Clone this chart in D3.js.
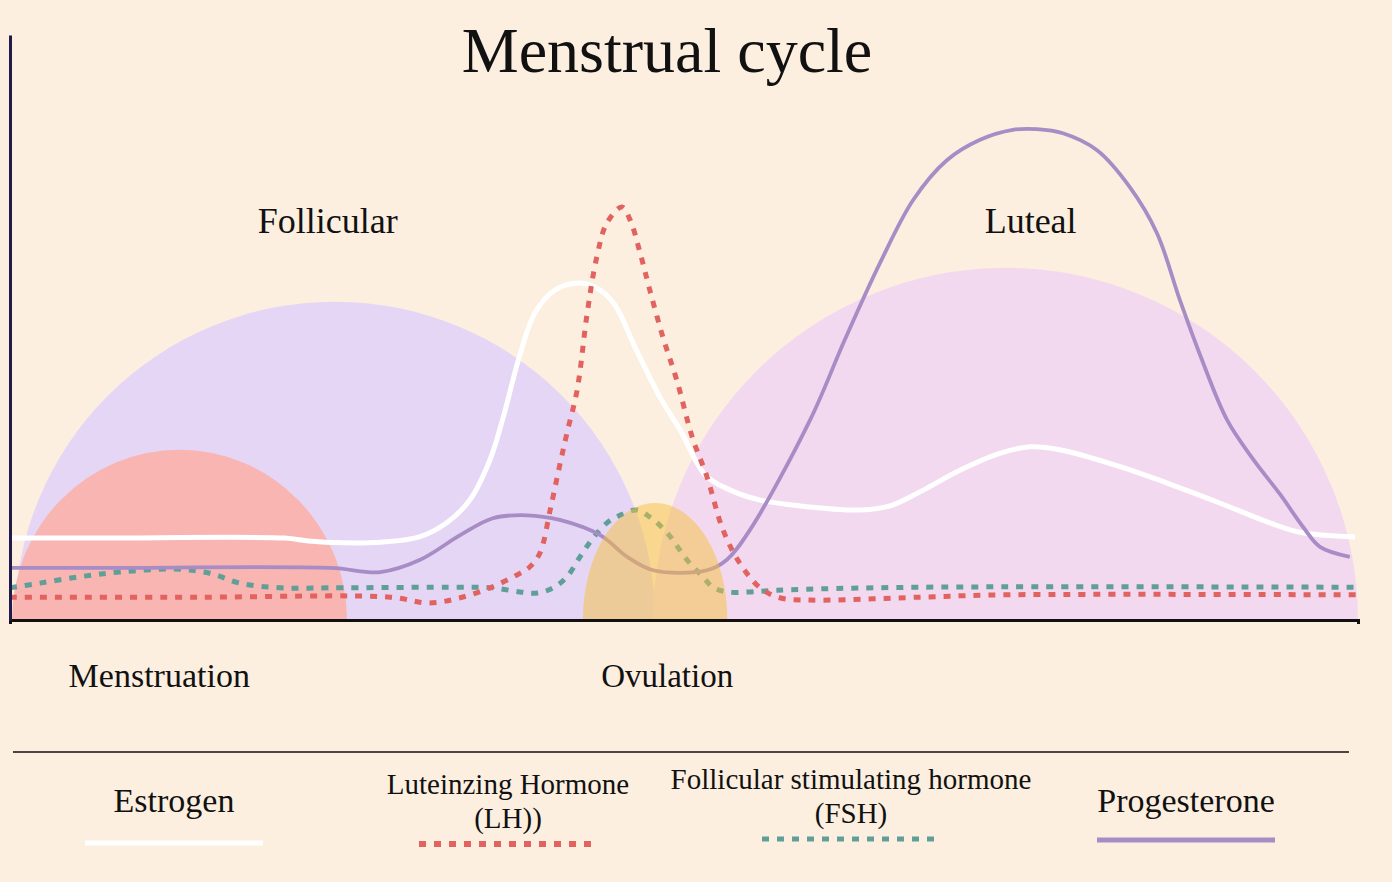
<!DOCTYPE html>
<html>
<head>
<meta charset="utf-8">
<script src="https://cdn.jsdelivr.net/npm/d3@7"></script>
<style>
  body { margin: 0; background: #fcefe0; }
  text { font-family: "Liberation Serif", "DejaVu Serif", serif; fill: #111; }
</style>
</head>
<body>
<div id="chart"></div>
<script>
// hormone levels: [cycle day, level 0-100]
var estrogen = [[0,14.0],[1.9,14.0],[5.7,14.0],[6.2,13.5],[6.9,13.2],[7.7,13.3],[8.5,14.2],[9.1,16.8],[9.55,20.5],
  [9.97,27.4],[10.24,34.5],[10.59,45.3],[10.91,52.6],[11.32,56.4],[11.84,57.6],[12.26,56.4],[12.57,53.8],[12.98,46.7],
  [13.5,38.1],[13.92,32.5],[14.44,24.8],[14.96,22.2],[15.58,20.5],[16.41,19.5],[17.66,18.8],[18.28,19.5],[18.9,21.9],
  [19.73,25.6],[20.56,28.5],[21.19,29.6],[21.81,29.1],[23.06,26.2],[24.3,22.6],[25.13,20.0],[26.17,16.6],[26.79,15.0],[27.94,14.2]];

var lh = [[0,3.9],[3.9,3.9],[7.9,3.9],[8.7,2.9],[9.35,3.8],[9.97,5.5],[10.53,7.7],[10.8,9.1],[11.01,11.5],[11.22,18.8],
  [11.42,26.5],[11.57,32.0],[11.78,39.3],[11.99,52.5],[12.19,62.1],[12.4,67.9],[12.71,70.6],[12.88,68.4],[13.09,62.7],
  [13.29,56.4],[13.56,48.4],[13.85,41.0],[14.17,31.3],[14.48,24.4],[14.81,15.4],[15.16,9.7],[15.58,5.5],[15.99,3.8],
  [16.62,3.4],[18.9,3.9],[20.56,4.3],[28,4.3]];

var fsh = [[0,5.5],[0.62,6.3],[1.45,7.4],[2.28,8.2],[3.43,8.7],[4.15,8.0],[4.78,6.3],[5.61,5.5],[6.65,5.5],[9.35,5.6],
  [10.03,5.5],[10.59,4.8],[10.95,4.6],[11.28,5.5],[11.57,7.4],[11.84,10.8],[12.11,14.0],[12.4,16.6],[12.67,17.9],
  [13.02,18.8],[13.29,17.6],[13.65,14.9],[14.06,10.3],[14.39,7.4],[14.6,5.6],[14.89,4.8],[15.37,4.8],[15.93,5.1],
  [18.9,5.6],[28,5.6]];

var progesterone = [[0,8.9],[1.9,8.9],[6.65,8.9],[7.69,8.2],[8.52,10.3],[9.35,14.5],[10.03,17.4],[10.74,17.9],[11.42,17.1],
  [12.26,14.5],[12.82,10.8],[13.36,8.5],[14.48,8.5],[14.89,10.3],[15.37,15.4],[16.62,34.2],[17.34,47.9],
  [18.07,61.0],[18.76,71.8],[19.46,78.6],[20.15,82.1],[20.83,83.8],[21.33,83.9],[21.87,83.2],[22.58,80.3],[23.26,74.0],
  [23.82,66.2],[24.3,54.7],[24.72,45.3],[25.28,34.2],[25.82,27.5],[26.38,21.5],[26.86,15.9],[27.21,12.5],[27.83,10.8]];

// phases (drawn as half ellipses on the day axis)
var phaseNames = ["Follicular", "Menstruation", "Luteal", "Ovulation"];
var phaseStart = [0.1, 0.04, 13.36, 11.9];
var phaseEnd = [13.4, 7.0, 28.0, 14.9];
var phasePeak = [54.4, 29.1, 60.2, 20.0];
var phaseLabelDay = [6.6, 3.1, 21.2, 13.65];

// legend
var legendNames = [["Estrogen"], ["Luteinzing Hormone", "(LH))"], ["Follicular stimulating hormone", "(FSH)"], ["Progesterone"]];

var svgWidth = 1392;
var svgHeight = 882;

var svg = d3.select("#chart").append("svg")
  .attr("width", svgWidth)
  .attr("height", svgHeight);

svg.append("rect").attr("width", svgWidth).attr("height", svgHeight).attr("fill", "#fcefe0");

var x = d3.scaleLinear().domain([0, 28]).range([10, 1358]);
var y = d3.scaleLinear().domain([0, 100]).range([620, 35]);

svg.append("clipPath").attr("id", "plot")
  .append("rect").attr("x", 10).attr("y", 0).attr("width", 1348).attr("height", 620);

var plot = svg.append("g").attr("clip-path", "url(#plot)");

var phaseColors = ["#e5d6f5", "#f9b5b1", "#f3d9ef"];

// background phases (not ovulation yet - it sits on top of the lines)
[0, 1, 2].forEach(function (i) {
  plot.append("ellipse")
    .attr("cx", (x(phaseStart[i]) + x(phaseEnd[i])) / 2)
    .attr("cy", y(0))
    .attr("rx", (x(phaseEnd[i]) - x(phaseStart[i])) / 2)
    .attr("ry", y(0) - y(phasePeak[i]))
    .attr("fill", phaseColors[i]);
});

var line = d3.line()
  .x(function (d) { return x(d[0]); })
  .y(function (d) { return y(d[1]); })
  .curve(d3.curveCatmullRom.alpha(0.5));

plot.append("path").datum(estrogen).attr("d", line)
  .attr("fill", "none").attr("stroke", "#ffffff").attr("stroke-width", 5);

plot.append("path").datum(fsh).attr("d", line)
  .attr("fill", "none").attr("stroke", "#5f9f97").attr("stroke-width", 5)
  .attr("stroke-dasharray", "7 8");

plot.append("path").datum(lh).attr("d", line)
  .attr("fill", "none").attr("stroke", "#e2625f").attr("stroke-width", 5)
  .attr("stroke-dasharray", "7 8");

plot.append("path").datum(progesterone).attr("d", line)
  .attr("fill", "none").attr("stroke", "#a88cc5").attr("stroke-width", 3.8);

// ovulation blob over the lines
plot.append("ellipse")
  .attr("cx", (x(phaseStart[3]) + x(phaseEnd[3])) / 2)
  .attr("cy", y(0))
  .attr("rx", (x(phaseEnd[3]) - x(phaseStart[3])) / 2)
  .attr("ry", y(0) - y(phasePeak[3]))
  .attr("fill", "#f6bf3c")
  .attr("fill-opacity", 0.5);

// axes
var xAxis = svg.append("g")
  .attr("transform", "translate(0," + y(0) + ")")
  .call(d3.axisBottom(x).ticks(0).tickSizeOuter(4));
xAxis.select(".domain").attr("stroke", "#111").attr("stroke-width", 3);

var yAxis = svg.append("g")
  .attr("transform", "translate(" + x(0) + ",0)")
  .call(d3.axisLeft(y).ticks(0).tickSizeOuter(0));
yAxis.select(".domain").attr("stroke", "#211b4c").attr("stroke-width", 3);

// titles and phase labels
svg.append("text")
  .attr("x", 667).attr("y", 72)
  .attr("text-anchor", "middle")
  .style("font-size", "64px")
  .text("Menstrual cycle");

var labelRowY = [233, 687, 233, 687];
var labelSize = [36, 34, 36, 33];
phaseNames.forEach(function (name, i) {
  svg.append("text")
    .attr("x", x(phaseLabelDay[i]))
    .attr("y", labelRowY[i])
    .attr("text-anchor", "middle")
    .style("font-size", labelSize[i] + "px")
    .text(name);
});

// legend
svg.append("line")
  .attr("x1", 13).attr("x2", 1349).attr("y1", 752).attr("y2", 752)
  .attr("stroke", "#4d4545").attr("stroke-width", 2);

var legendX = [174, 508, 851, 1186];
var legendTextY = [[812], [794, 828], [789, 823], [812]];
var legendSize = [34, 29, 29, 34];
var legendLineY = [843, 844, 839, 840];
var legendStroke = ["#ffffff", "#e2625f", "#5f9f97", "#a88cc5"];
var legendDash = [null, "7 8", "7 8", null];
var legendWidth = [5, 6, 5, 5];

legendNames.forEach(function (rows, i) {
  rows.forEach(function (row, j) {
    svg.append("text")
      .attr("x", legendX[i])
      .attr("y", legendTextY[i][j])
      .attr("text-anchor", "middle")
      .style("font-size", legendSize[i] + "px")
      .text(row);
  });
  svg.append("line")
    .attr("x1", legendX[i] - 89).attr("x2", legendX[i] + 89)
    .attr("y1", legendLineY[i]).attr("y2", legendLineY[i])
    .attr("stroke", legendStroke[i])
    .attr("stroke-width", legendWidth[i])
    .attr("stroke-dasharray", legendDash[i]);
});
</script>
</body>
</html>
